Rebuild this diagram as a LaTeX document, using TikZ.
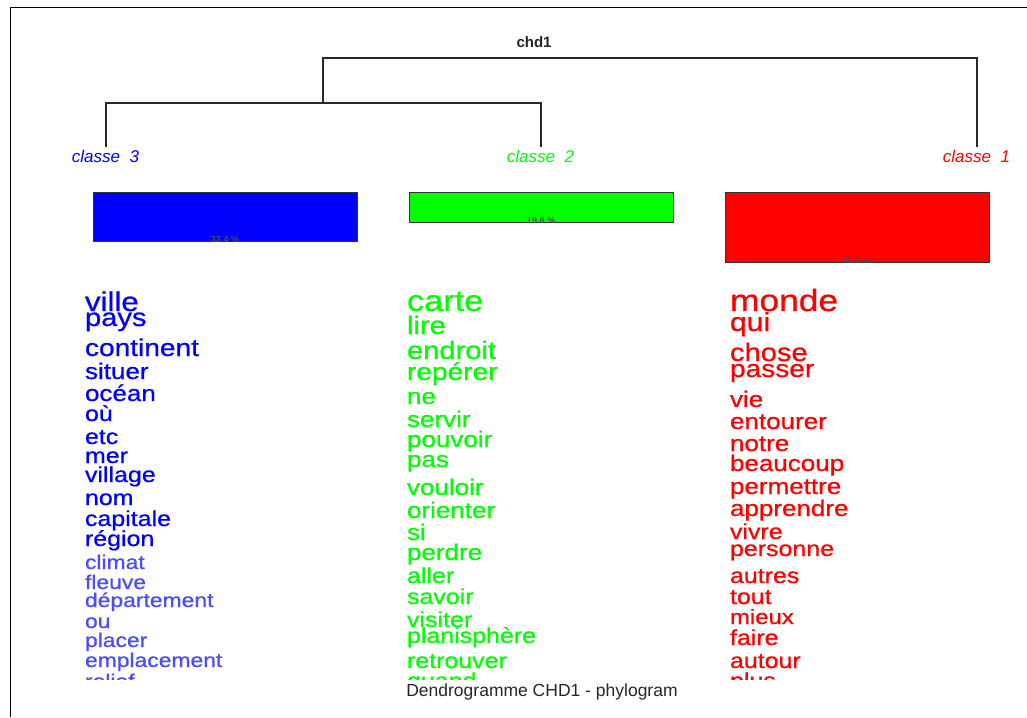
\documentclass[tikz,border=0pt]{standalone}
\usepackage{fontspec}
\usepackage{graphicx}
\setmainfont{Liberation Sans}
\newfontfamily\wordfont[FakeBold=0.6]{Liberation Sans}
\definecolor{cblue}{RGB}{0,0,255}
\definecolor{cblueL}{RGB}{75,75,255}
\definecolor{cgreen}{RGB}{0,255,0}
\definecolor{cred}{RGB}{255,0,0}
\definecolor{treeline}{RGB}{40,40,40}
\newcommand{\wordbox}[1]{\scalebox{1.04}[0.9]{#1}}
\tikzset{
  word/.style={anchor=base west, inner sep=0pt, outer sep=0pt},
  branch/.style={draw=treeline, line width=1.2pt},
  classlab/.style={anchor=base, inner sep=0pt, font=\fontsize{17}{17}\selectfont\itshape},
  bar/.style={draw=black!80, line width=1pt},
  pct/.style={anchor=base, inner sep=0pt, font=\fontsize{9}{9}\selectfont\bfseries, text=black!70},
}
\begin{document}
\begin{tikzpicture}[x=1pt, y=-1pt]
\useasboundingbox (0,0) rectangle (1027,717);
\fill[white] (0,0) rectangle (1027,717);
% frame
\coordinate (fbl) at (10,717);
\coordinate (ftl) at (10,8);
\coordinate (ftr) at (1027,8);
\draw[line width=1pt, black] (fbl) -- (ftl) -- (ftr);
% title
\node[anchor=base, inner sep=0pt, font=\fontsize{15}{15}\selectfont\bfseries, text=black!85] (title) at (534,48) {chd1};
% dendrogram
\coordinate (root) at (323,58);
\coordinate (rootr) at (977,58);
\coordinate (j) at (323,103);
\coordinate (jl) at (106,103);
\coordinate (jr) at (541,103);
\coordinate (leaf3) at (106,147);
\coordinate (leaf2) at (541,147);
\coordinate (leaf1) at (977,147);
\draw[branch] (j) -- (root) -- (rootr) -- (leaf1);
\draw[branch] (leaf3) -- (jl) -- (jr) -- (leaf2);
% class labels
\node[classlab, text=cblue] (c3) at (105.5,162) {classe\ \ 3};
\node[classlab, text=cgreen] (c2) at (540.5,162) {classe\ \ 2};
\node[classlab, text=cred] (c1) at (976.5,162) {classe\ \ 1};
% bars
\draw[bar, fill=cblue] (93,192) rectangle (357,241);
\draw[bar, fill=cgreen] (409,192) rectangle (673,222);
\draw[bar, fill=cred] (725,192) rectangle (989,262);
\node[pct] (p3) at (225,242) {33.4 \%};
\node[pct] (p2) at (541,223) {19.6 \%};
\node[pct] (p1) at (857,263) {46.9 \%};
% words
\begin{scope}
\clip (0,0) rectangle (1027,679);
\foreach \w/\yy/\s/\c [count=\i] in {
  ville/311/30/cblue, pays/326/28/cblue, continent/356/27/cblue,
  situer/379/25/cblue, océan/401/25/cblue, où/421/24/cblue,
  etc/444/24/cblue, mer/463/24/cblue, village/482/24/cblue,
  nom/505/24/cblue, capitale/526/24/cblue, région/546/24/cblue,
  climat/569/22/cblueL, fleuve/589/22/cblueL, département/607/22/cblueL,
  ou/628/22/cblueL, placer/647/22/cblueL, emplacement/667/22/cblueL,
  relief/688/22/cblueL}
  \node[word, text=\c, font=\wordfont\fontsize{\s}{\s}\selectfont] (b\i) at (85,\yy) {\wordbox{\w}};
\foreach \w/\yy/\s [count=\i] in {
  carte/311/33, lire/334/28, endroit/359/28, repérer/380/27,
  ne/404/25, servir/427/25, pouvoir/447/25, pas/467/25,
  vouloir/495/25, orienter/518/25, si/540/25, perdre/560/25,
  aller/583/24, savoir/604/24, visiter/627/24, planisphère/643/24,
  retrouver/668/24, quand/688/24}
  \node[word, text=cgreen, font=\wordfont\fontsize{\s}{\s}\selectfont] (g\i) at (407,\yy) {\wordbox{\w}};
\foreach \w/\yy/\s [count=\i] in {
  monde/311/34, qui/331/29, chose/361/28, passer/377/27,
  vie/407/25, entourer/429/25, notre/451/25, beaucoup/471/25,
  permettre/494/25, apprendre/516/25, vivre/539/24, personne/556/24,
  autres/583/24, tout/604/24, mieux/624/23, faire/645/24,
  autour/668/24, plus/688/24}
  \node[word, text=cred, font=\wordfont\fontsize{\s}{\s}\selectfont] (r\i) at (730,\yy) {\wordbox{\w}};
\end{scope}
% caption
\node[anchor=base, inner sep=0pt, font=\fontsize{17.5}{17.5}\selectfont, text=black!85] (cap) at (542,696) {Dendrogramme CHD1 - phylogram};
\end{tikzpicture}
\end{document}
